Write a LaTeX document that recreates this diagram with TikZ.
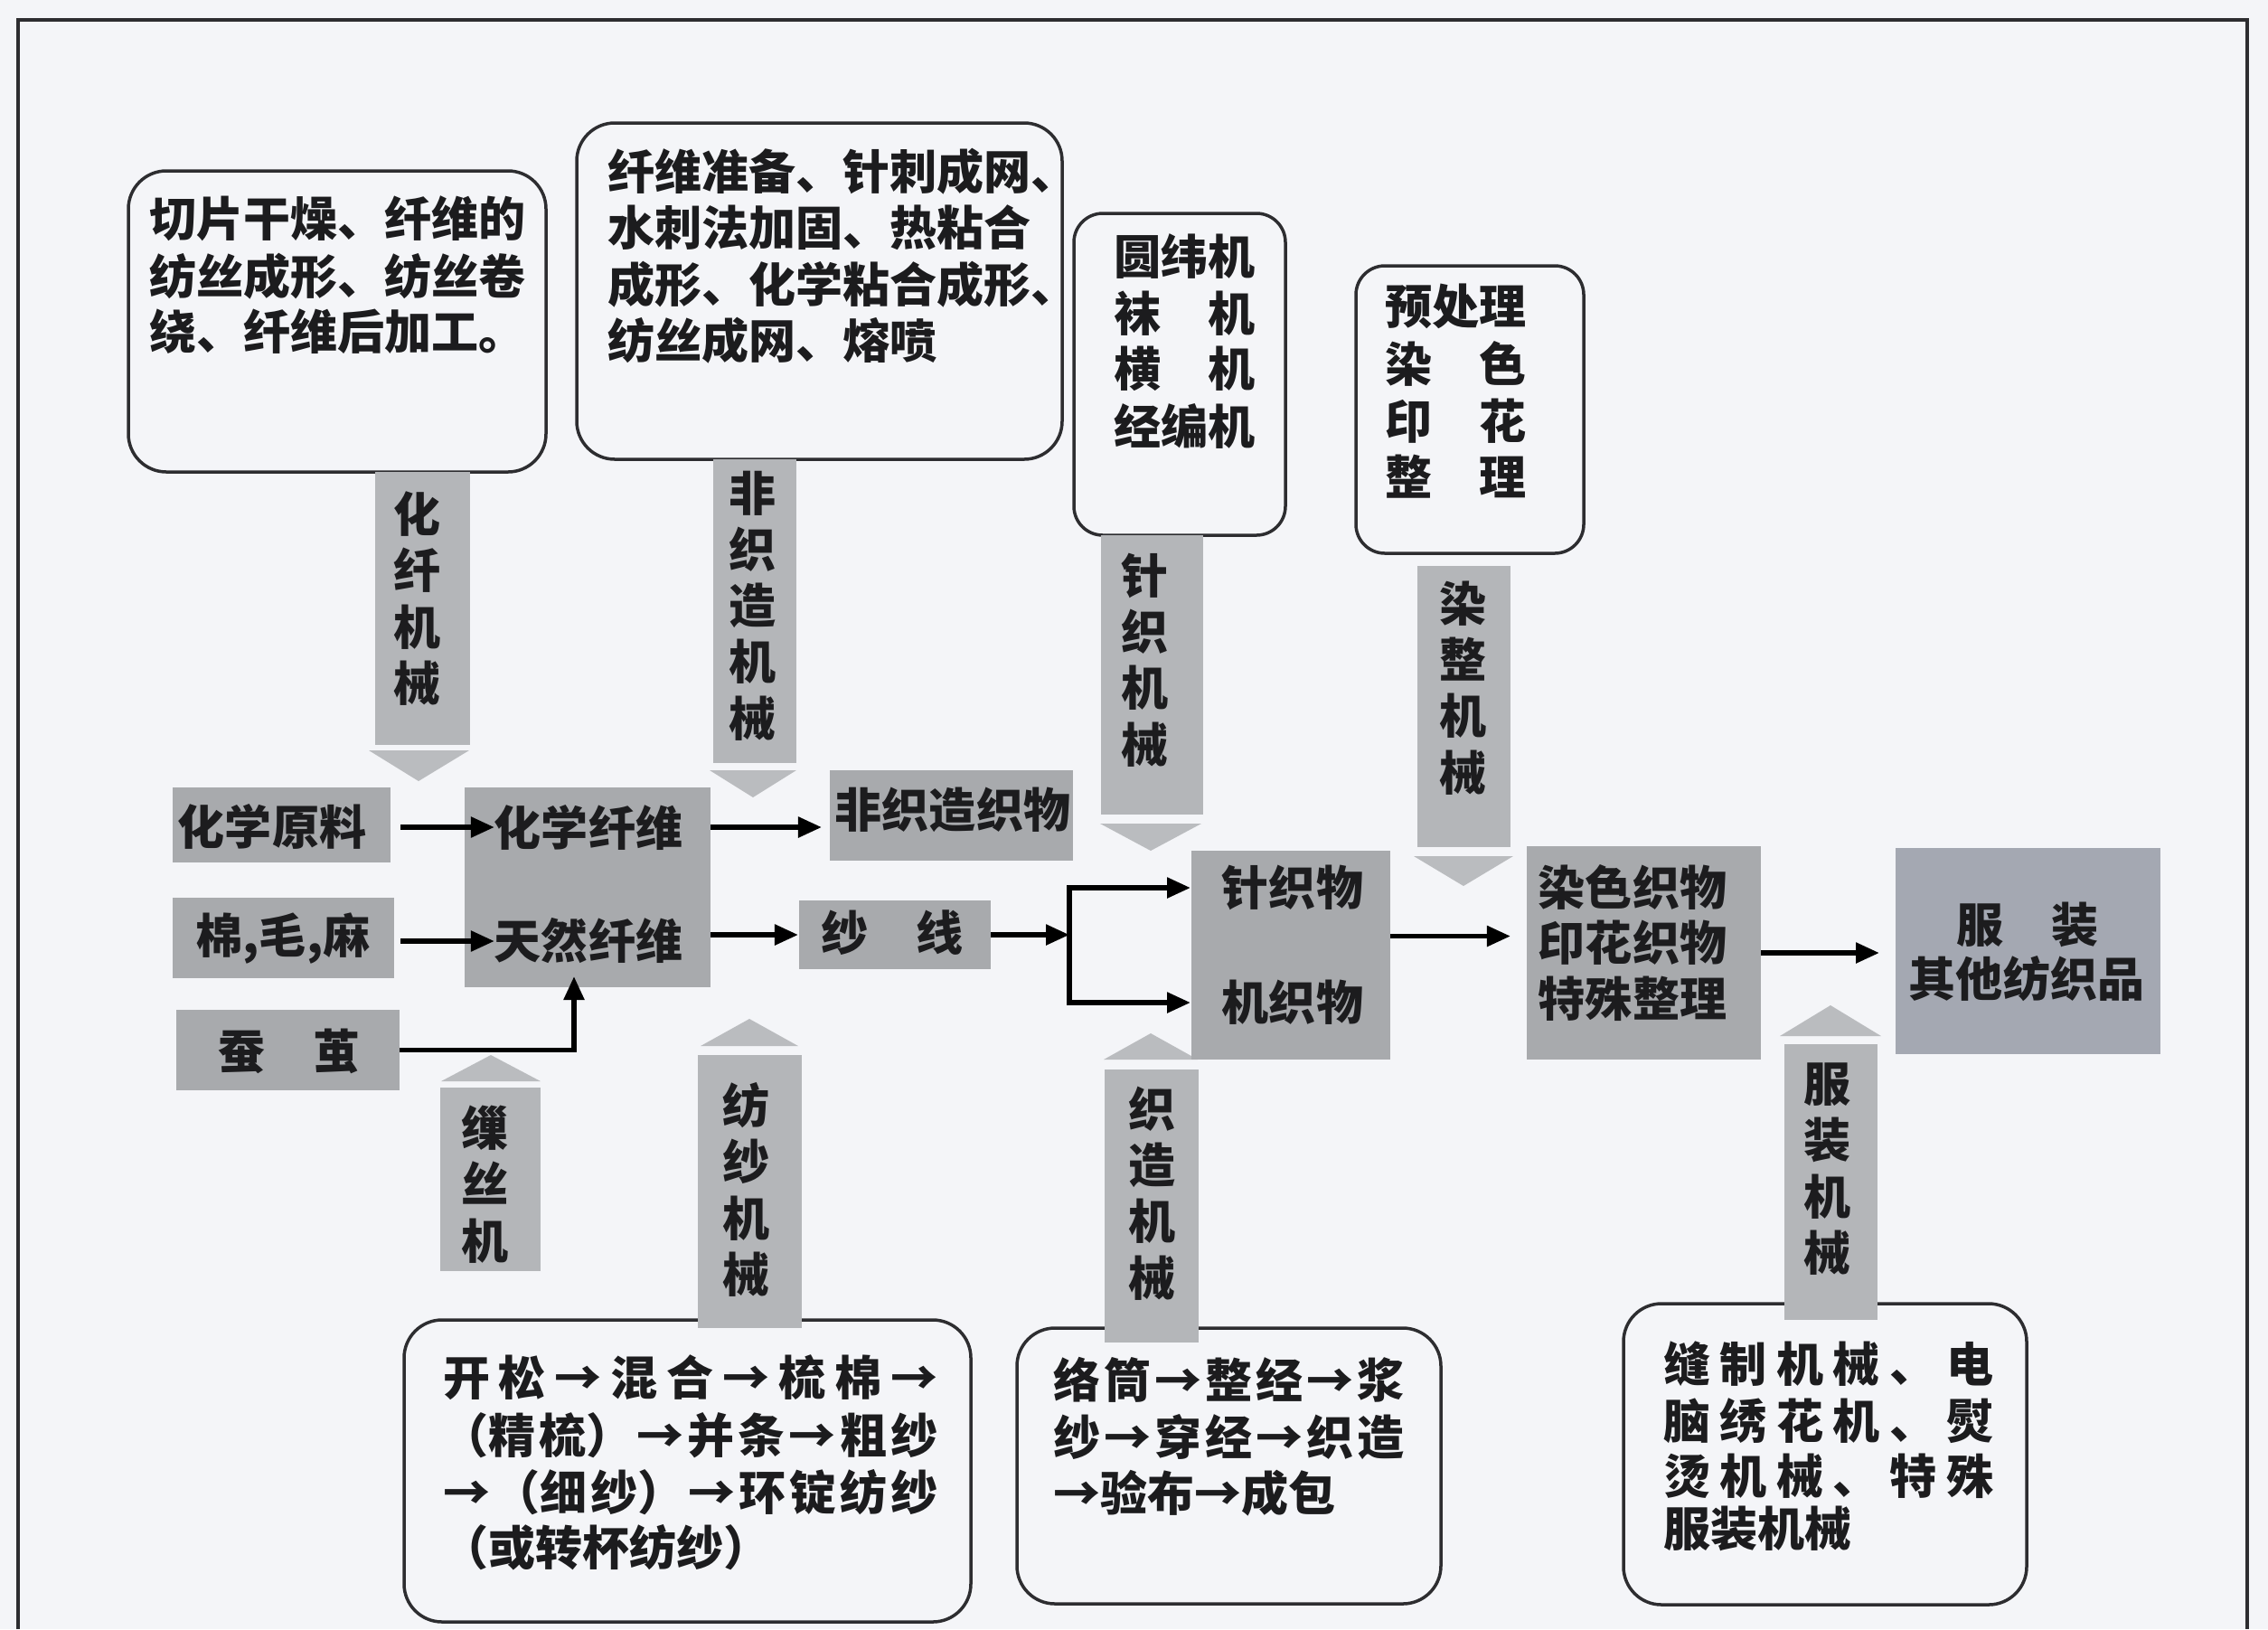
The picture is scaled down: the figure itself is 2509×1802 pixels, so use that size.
\documentclass[tikz,border=0pt]{standalone}
\usepackage{fontspec}
\setmainfont{Noto Sans CJK SC}
\usetikzlibrary{arrows.meta,fit,calc}
\definecolor{bg}{RGB}{244,245,248}
\definecolor{boxgray}{RGB}{168,170,173}
\definecolor{bargray}{RGB}{180,182,185}
\definecolor{trigray}{RGB}{186,188,191}
\definecolor{fzgray}{RGB}{164,168,178}
\definecolor{ink}{RGB}{28,28,30}
\definecolor{linecol}{RGB}{45,45,48}
\newcommand\gx{\hskip 0pt plus 1fil\relax}
\begin{document}
\begin{tikzpicture}[x=0.01cm,y=-0.01cm,
  gbox/.style={fill=boxgray,inner sep=0pt,outer sep=0pt},
  bar/.style={fill=bargray,inner sep=0pt,outer sep=0pt},
  tri/.style={fill=trigray},
  rbox/.style={draw=linecol,line width=0.035cm,rounded corners=0.42cm,inner sep=0pt,outer sep=0pt},
  rboxs/.style={rbox,rounded corners=0.32cm},
  txt/.style={inner sep=0pt,outer sep=0pt,text=ink,font=\fontsize{14.8pt}{17.7pt}\selectfont\bfseries},
  vtxt/.style={txt,align=center},
  arr/.style={draw=black,line width=0.055cm,-{Triangle[length=0.26cm,width=0.22cm]}}]
\fill[bg] (0,0) rectangle (2509,1802);
\useasboundingbox (0,0) rectangle (2509,1802);
% frame
\draw[draw=linecol,line width=0.035cm] (20,1802) -- (20,22) -- (2486,22) -- (2486,1802);

% rounded description boxes
\node[rbox,fit={(142,189) (604,522)}] (A) {};
\node[rbox,fit={(638,136) (1175,508)}] (B) {};
\node[rboxs,fit={(1188,236) (1422,592)}] (C) {};
\node[rboxs,fit={(1500,294) (1752,612)}] (D) {};
\node[rbox,fit={(447,1460) (1074,1794)}] (E) {};
\node[rbox,fit={(1125,1469) (1594,1774)}] (F) {};
\node[rbox,fit={(1796,1442) (2242,1775)}] (G) {};

% texts in rounded boxes
\node[txt,anchor=west] (a1) at (165,242) {切片干燥、纤维的};
\node[txt,anchor=west] (a2) at (165,306) {纺丝成形、纺丝卷};
\node[txt,anchor=west] (a3) at (165,367) {绕、纤维后加工。};

\node[txt,anchor=west] (bl1) at (672,190) {纤维准备、针刺成网、};
\node[txt,anchor=west] (bl2) at (672,252) {水刺法加固、热粘合};
\node[txt,anchor=west] (bl3) at (672,315) {成形、化学粘合成形、};
\node[txt,anchor=west] (bl4) at (672,377) {纺丝成网、熔喷};

\node[txt,anchor=west] (c1) at (1232,284) {圆纬机};
\node[txt,anchor=west] (c2) at (1232,347) {袜　机};
\node[txt,anchor=west] (c3) at (1232,408) {横　机};
\node[txt,anchor=west] (c4) at (1232,471) {经编机};

\node[txt,anchor=west] (d1) at (1532,339) {预处理};
\node[txt,anchor=west] (d2) at (1532,402) {染　色};
\node[txt,anchor=west] (d3) at (1532,466) {印　花};
\node[txt,anchor=west] (d4) at (1532,527) {整　理};

\node[txt,anchor=west] (e1) at (490,1524) {\makebox[5.47cm][s]{开\gx 松\gx →\gx 混\gx 合\gx →\gx 梳\gx 棉\gx →}};
\node[txt,anchor=west] (e2) at (488,1588) {\makebox[5.49cm][s]{（精\gx 梳）\gx →\gx 并\gx 条\gx →\gx 粗\gx 纱}};
\node[txt,anchor=west] (e3) at (490,1651) {\makebox[5.47cm][s]{→\gx （细\gx 纱）\gx →\gx 环\gx 锭\gx 纺\gx 纱}};
\node[txt,anchor=west] (e4) at (488,1712) {（或转杯纺纱）};

\node[txt,anchor=west] (f1) at (1165,1526) {\makebox[3.88cm][s]{络\gx 筒\gx →\gx 整\gx 经\gx →\gx 浆}};
\node[txt,anchor=west] (f2) at (1165,1590) {\makebox[3.88cm][s]{纱\gx →\gx 穿\gx 经\gx →\gx 织\gx 造}};
\node[txt,anchor=west] (f3) at (1165,1652) {→验布→成包};

\node[txt,anchor=west] (g1) at (1840,1509) {\makebox[3.65cm][s]{缝\gx 制\gx 机\gx 械\gx 、\gx 电}};
\node[txt,anchor=west] (g2) at (1840,1572) {\makebox[3.65cm][s]{脑\gx 绣\gx 花\gx 机\gx 、\gx 熨}};
\node[txt,anchor=west] (g3) at (1840,1633) {\makebox[3.65cm][s]{烫\gx 机\gx 械\gx 、\gx 特\gx 殊}};
\node[txt,anchor=west] (g4) at (1840,1691) {服装机械};

% machine bars (shaft + head)
\node[bar,fit={(415,522) (520,824)}] (b1) {};
\fill[tri] (408,830) -- (519,830) -- (463,864) -- cycle;
\node[bar,fit={(789,508) (881,844)}] (b2) {};
\fill[tri] (785,852) -- (881,852) -- (833,882) -- cycle;
\node[bar,fit={(1218,592) (1331,901)}] (b3) {};
\fill[tri] (1217,911) -- (1329,911) -- (1273,941) -- cycle;
\node[bar,fit={(1568,626) (1671,937)}] (b4) {};
\fill[tri] (1564,947) -- (1674,947) -- (1619,980) -- cycle;
\node[bar,fit={(487,1203) (598,1406)}] (b5) {};
\fill[tri] (488,1196) -- (598,1196) -- (543,1167) -- cycle;
\node[bar,fit={(772,1167) (887,1469)}] (b6) {};
\fill[tri] (775,1157) -- (883,1157) -- (829,1127) -- cycle;
\node[bar,fit={(1222,1183) (1326,1485)}] (b7) {};
\fill[tri] (1221,1172) -- (1325,1172) -- (1273,1143) -- cycle;
\node[bar,fit={(1974,1155) (2077,1460)}] (b8) {};
\fill[tri] (1969,1146) -- (2081,1146) -- (2025,1112) -- cycle;

\node[vtxt] (v1) at (462,662) {化\\纤\\机\\械};
\node[vtxt] (v2) at (833,670) {非\\织\\造\\机\\械};
\node[vtxt] (v3) at (1267,730) {针\\织\\机\\械};
\node[vtxt] (v4) at (1618,761) {染\\整\\机\\械};
\node[vtxt] (v5) at (537,1310) {缫\\丝\\机};
\node[vtxt] (v6) at (826,1316) {纺\\纱\\机\\械};
\node[vtxt] (v7) at (1275,1320) {织\\造\\机\\械};
\node[vtxt] (v8) at (2021,1293) {服\\装\\机\\械};

% gray process boxes
\node[gbox,fit={(191,871) (432,954)}] (yl) {};
\node[gbox,fit={(191,993) (436,1082)}] (mmm) {};
\node[gbox,fit={(195,1117) (442,1206)}] (cj) {};
\node[gbox,fit={(514,871) (786,1092)}] (xw) {};
\node[gbox,fit={(918,852) (1187,952)}] (fzz) {};
\node[gbox,fit={(884,996) (1096,1072)}] (sx) {};
\node[gbox,fit={(1318,941) (1538,1172)}] (zjw) {};
\node[gbox,fit={(1689,936) (1948,1172)}] (rs) {};
\node[gbox,fill=fzgray,fit={(2097,938) (2390,1166)}] (fz) {};

\node[txt] (tyl) at (301,914) {化学原料};
\node[txt] (tmmm) at (313,1038) {棉,毛,麻};
\node[txt] (tcj) at (320,1163) {蚕　茧};
\node[txt] (hx) at (651,915) {化学纤维};
\node[txt] (tr) at (651,1041) {天然纤维};
\node[txt] (tfzz) at (1054,896) {非织造织物};
\node[txt] (tsx) at (987,1032) {纱　线};
\node[txt] (zj) at (1430,982) {针织物};
\node[txt] (jz) at (1430,1109) {机织物};
\node[txt] (r1) at (1806,981) {染色织物};
\node[txt] (r2) at (1806,1043) {印花织物};
\node[txt] (r3) at (1806,1105) {特殊整理};
\node[txt] (fz1) at (2243,1023) {服　装};
\node[txt] (fz2) at (2242,1083) {其他纺织品};

% connectors
\draw[arr,shorten <=0.11cm] (yl.east |- hx) -- (hx.west);
\draw[arr,shorten <=0.07cm] (mmm.east |- tr) -- (tr.west);
\draw[arr] (cj.east) -| ($(xw.south)+(-15,-12)$);
\draw[arr,shorten >=0.09cm] (hx -| xw.east) -- (hx -| fzz.west);
\draw[arr,shorten >=0.01cm] (sx -| xw.east) -- (sx.west);
\coordinate (jn) at (1183,1034);
\draw[arr] (sx.east) -- (jn);
\draw[arr,shorten >=0.01cm] (jn) |- (zj -| zjw.west);
\draw[arr,shorten >=0.01cm] (jn) |- (jz -| zjw.west);
\draw[arr,shorten >=0.18cm] ($(zjw.east)+(0,-21)$) -- ($(zjw.east -| rs.west)+(0,-21)$);
\draw[arr,shorten >=0.18cm] (rs.east) -- (rs.east -| fz.west);
\end{tikzpicture}
\end{document}
